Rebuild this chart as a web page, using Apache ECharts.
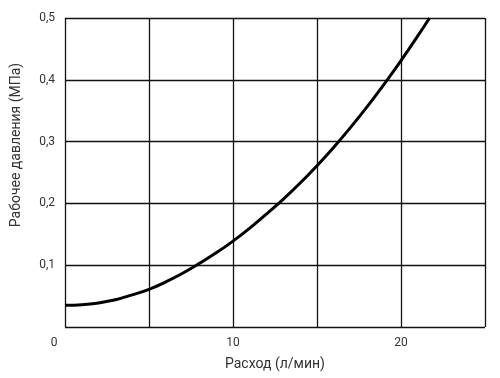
<!DOCTYPE html>
<html>
<head>
<meta charset="utf-8">
<script src="https://cdn.jsdelivr.net/npm/echarts@6/dist/echarts.min.js"></script>
<style>
  html, body { margin: 0; padding: 0; background: #fff; }
  #chart { width: 500px; height: 378px; }
</style>
</head>
<body>
<div id="chart"></div>
<script>
// расход, л/мин
const flow = [0, 1, 2, 3, 4, 5, 6, 7, 8, 9, 10, 11, 12, 13, 14, 15, 16, 17, 18, 19, 20, 21, 21.7];
// рабочее давление, МПа
const pressure = [0.035, 0.036, 0.039, 0.044, 0.052, 0.061, 0.073, 0.087, 0.103, 0.120, 0.139,
  0.160, 0.183, 0.207, 0.233, 0.261, 0.291, 0.323, 0.357, 0.393, 0.431, 0.471, 0.5];

const xLabels = [0, 10, 20];

const chart = echarts.init(document.getElementById('chart'));

chart.setOption({
  animation: false,
  textStyle: { fontFamily: 'Roboto' },
  grid: { left: 65, right: 15, top: 18, bottom: 51 },
  xAxis: {
    type: 'value',
    min: 0,
    max: 25,
    interval: 5,
    name: 'Расход (л/мин)',
    nameLocation: 'middle',
    nameGap: 30,
    nameTextStyle: { fontSize: 14, color: '#333' },
    axisLine: { show: false },
    axisTick: { show: false },
    axisLabel: {
      color: '#333',
      fontSize: 12,
      margin: 10,
      formatter: v => {
        if (v === 0) return '{z|0}';
        return xLabels.includes(v) ? String(v) : '';
      },
      rich: { z: { fontSize: 12, color: '#333', padding: [0, 22, 0, 0] } }
    },
    splitLine: { show: true, lineStyle: { color: '#111', width: 1.3 } }
  },
  yAxis: {
    type: 'value',
    min: 0,
    max: 0.5,
    interval: 0.1,
    name: 'Рабочее давления (МПа)',
    nameLocation: 'middle',
    nameGap: 42,
    nameTextStyle: { fontSize: 14, color: '#333', padding: [0, 0, 0, 55] },
    axisLine: { show: false },
    axisTick: { show: false },
    axisLabel: {
      color: '#333',
      fontSize: 12,
      margin: 10,
      formatter: v => v === 0 ? '' : v.toFixed(1).replace('.', ',')
    },
    splitLine: { show: true, lineStyle: { color: '#111', width: 1.3 } }
  },
  series: [{
    type: 'line',
    data: flow.map((q, i) => [q, pressure[i]]),
    smooth: 0.4,
    showSymbol: false,
    lineStyle: { color: '#000', width: 3 }
  }]
});
</script>
</body>
</html>
